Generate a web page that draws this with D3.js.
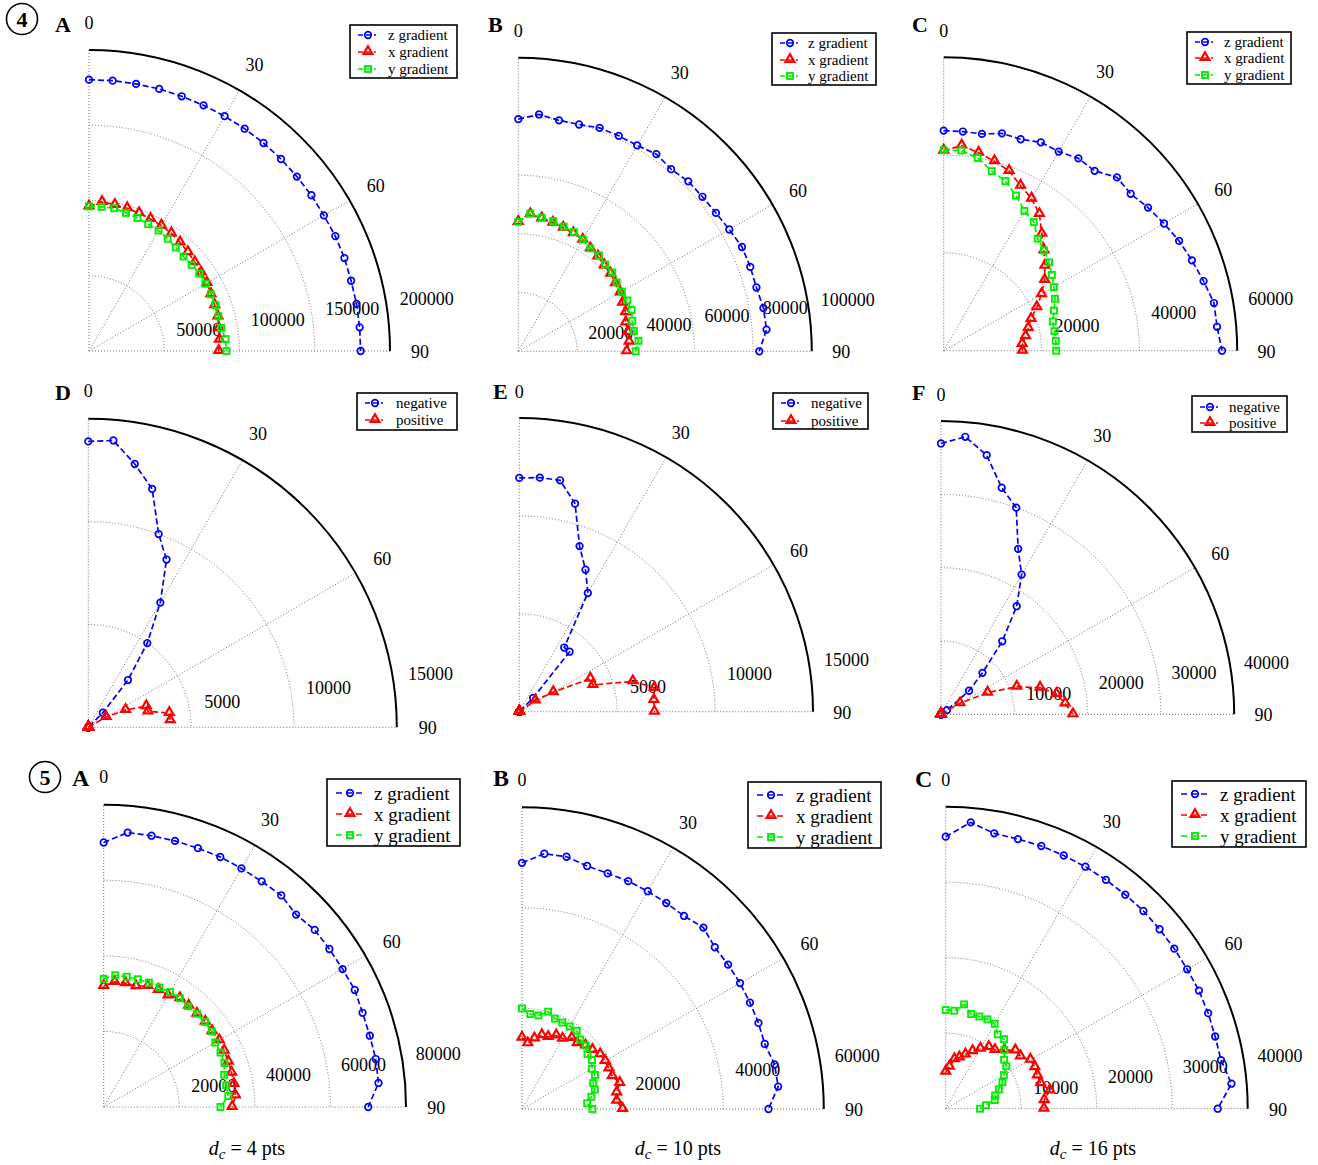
<!DOCTYPE html>
<html>
<head>
<meta charset="utf-8">
<script src="https://cdn.jsdelivr.net/npm/d3@7/dist/d3.min.js"></script>
<style>
  html, body { margin: 0; padding: 0; background: #fff; }
  svg { display: block; }
  text { font-family: "Liberation Serif", "Times New Roman", serif; fill: #000; }
</style>
</head>
<body>
<svg id="chart" width="1318" height="1165"></svg>
<script>
// ---------------- DATA ----------------
const ANGLES = [0, 5, 10, 15, 20, 25, 30, 35, 40, 45, 50, 55, 60, 65, 70, 75, 80, 85, 90];
const ANGLE_TICKS = [0, 30, 60, 90];
const GRAD_NAMES = ["z gradient", "x gradient", "y gradient"];
const SIGN_NAMES = ["negative", "positive"];

// Figure 4 A (d_c = 4 pts)
const ticks4A = [50000, 100000, 150000, 200000];
const f4A_z = [180300,180300,180200,180300,180100,180100,180200,180300,180400,180400,180300,180400,180200,180600,180600,180300,180500,180500,180500];
const f4A_x = [96100,99400,98600,98200,97400,96800,96200,95400,94200,92900,91800,90900,90500,89400,88900,88700,87600,87000,86200];
const f4A_y = [96100,96100,96300,95000,94100,93000,92400,91100,89800,88800,89000,89600,89400,89200,89300,89000,89100,91100,91300];

// Figure 4 B
const ticks4B = [20000, 40000, 60000, 80000, 100000];
const f4B_z = [79100,81000,79900,80000,81000,81000,81000,82000,81000,81900,81900,82200,83000,84100,84100,84000,84800,84900,82100];
const f4B_x = [44100,46900,46000,45400,44800,44400,43900,42800,42200,41400,41100,40400,40100,39200,38900,37900,37900,37900,36900];
const f4B_y = [44100,47100,46200,45900,45200,44800,44000,42800,42700,41800,41800,40900,40700,41000,41100,40200,40000,41100,40000];

// Figure 4 C
const ticks4C = [20000, 40000, 60000];
const f4C_z = [45000,44970,45000,46000,46000,47000,47000,48000,48000,50100,49900,51000,52000,53100,54000,55000,56100,56100,56900];
const f4C_x = [40900,42100,41100,40100,39100,37200,35900,34100,31200,29000,27000,25200,23100,21000,19000,17900,17000,16100,16100];
const f4C_y = [41000,41100,40000,38000,36900,35000,33000,32100,29900,29000,28100,27000,26000,25100,24000,23100,23000,23000,23000];

// Figure 4 D
const ticks4D = [5000, 10000, 15000];
const f4D_neg = [13900,14000,13000,12000,10000,9000,7000,5000,3000,1000,0,0,0,0,0,0,0,0,0];
const f4D_pos = [0,0,0,0,0,0,0,0,0,0,0,0,1000,2000,3000,3000,4000,4000,null];

// Figure 4 E
const ticks4E = [5000, 10000, 15000];
const f4E_neg = [11940,12000,12000,11000,9000,8000,7000,4000,4000,1000,0,0,0,0,0,0,0,0,0];
const f4E_pos = [0,0,0,0,0,0,0,0,0,0,0,1000,2000,4000,4000,6000,7000,6900,6900];

// Figure 4 F
const ticks4F = [10000, 20000, 30000, 40000];
const f4F_neg = [36950,38000,35900,32000,30000,24900,22000,18000,13000,8000,5000,1000,0,0,0,0,0,0,0];
const f4F_pos = [0,0,0,0,0,0,0,0,0,0,0,0,3000,7000,11000,14000,16000,17000,18000];

// Figure 5 A
const ticks5A = [20000, 40000, 60000, 80000];
const f5A_z = [70000,72900,72900,72900,72900,73000,72900,72900,73100,72000,72900,72900,73000,73300,72900,72900,73100,73000,70000];
const f5A_x = [32050,33250,33270,33100,34100,34200,34100,35150,35000,34900,35100,35000,35300,35200,35100,35050,35000,35000,34000];
const f5A_y = [33900,35000,35000,35000,35000,34900,35100,35100,34800,34900,35000,34900,34100,34100,34000,33000,32900,33100,30900];

// Figure 5 B
const ticks5B = [20000, 40000, 60000];
const f5B_z = [48940,50940,50920,50020,49840,49980,50000,50000,50100,51000,50030,50030,50050,50010,50030,49960,50990,51120,49010];
const f5B_x = [14170,13110,14250,15210,15230,16120,16140,17250,17080,17840,18290,18960,19080,19050,19090,20100,19100,18900,20000];
const f5B_y = [20000,18950,18900,20030,19110,18960,18940,18980,18010,17890,16980,16980,16020,16000,15060,14990,14000,13000,14000];

// Figure 5 C
const ticks5C = [10000, 20000, 30000, 40000];
const f5C_z = [36030,38070,37030,36970,37030,37000,37010,37000,37000,37030,36980,36960,36930,37010,36990,36950,37030,37990,36030];
const f5C_x = [4900,5580,6660,7020,7640,8420,9190,9970,10160,10990,12030,12090,12960,13030,12920,13020,14010,13100,13020];
const f5C_y = [13070,13030,14030,12980,13000,13060,12980,12020,12030,10990,10100,9800,8900,8300,7500,6780,6590,5360,4550];

const XLABELS = ["4", "10", "16"];

// ---------------- STYLE / LAYOUT ----------------
const BLUE = "#0000ff", RED = "#ff0000", GREEN = "#00ee00";
const gradStyles = [
  {color: BLUE, marker: "circle"},
  {color: RED, marker: "triangle"},
  {color: GREEN, marker: "square"}
];
const signStyles = [
  {color: BLUE, marker: "circle"},
  {color: RED, marker: "triangle"}
];

const smallLeg = {font: 15, s0: 8, s1: 26, m: 18};
const bigLeg = {font: 19, s0: 9, s1: 38, m: 23};

const panels = [
  {cx: 89, cy: 351, R: 301, ticks: ticks4A, series: [f4A_z, f4A_x, f4A_y], names: GRAD_NAMES, styles: gradStyles,
   letter: {t: "A", x: 55, y: 32, s: 22}, leg: {x: 350, y: 25, w: 107, h: 53, rows: [10, 27, 44], tx: 38, ...smallLeg}},
  {cx: 518.3, cy: 351.3, R: 293.5, ticks: ticks4B, series: [f4B_z, f4B_x, f4B_y], names: GRAD_NAMES, styles: gradStyles,
   letter: {t: "B", x: 488, y: 32, s: 22}, leg: {x: 772, y: 33, w: 104, h: 52, rows: [10, 27, 43], tx: 36, ...smallLeg}},
  {cx: 943.7, cy: 350.7, R: 293.5, ticks: ticks4C, series: [f4C_z, f4C_x, f4C_y], names: GRAD_NAMES, styles: gradStyles,
   letter: {t: "C", x: 912, y: 32, s: 22}, leg: {x: 1187, y: 32, w: 104, h: 52, rows: [10, 26, 43], tx: 37, ...smallLeg}},
  {cx: 88.3, cy: 727.3, R: 308.5, ticks: ticks4D, series: [f4D_neg, f4D_pos], names: SIGN_NAMES, styles: signStyles,
   letter: {t: "D", x: 55, y: 400, s: 22}, leg: {x: 357, y: 393, w: 100, h: 37, rows: [10, 27], tx: 39, ...smallLeg}},
  {cx: 519.3, cy: 711.7, R: 293.7, ticks: ticks4E, series: [f4E_neg, f4E_pos], names: SIGN_NAMES, styles: signStyles,
   letter: {t: "E", x: 493, y: 399, s: 22}, leg: {x: 773, y: 393, w: 95, h: 36, rows: [10, 28], tx: 38, ...smallLeg}},
  {cx: 941, cy: 714.3, R: 293.2, ticks: ticks4F, series: [f4F_neg, f4F_pos], names: SIGN_NAMES, styles: signStyles,
   letter: {t: "F", x: 912, y: 400, s: 22}, leg: {x: 1192, y: 396, w: 95, h: 36, rows: [11, 27], tx: 37, ...smallLeg}},
  {cx: 103.7, cy: 1107, R: 302.3, ticks: ticks5A, series: [f5A_z, f5A_x, f5A_y], names: GRAD_NAMES, styles: gradStyles,
   letter: {t: "A", x: 72, y: 786, s: 24}, leg: {x: 327, y: 779, w: 133, h: 67, rows: [14, 35, 56], tx: 47, ...bigLeg},
   xlabel: {t: XLABELS[0], x: 247, y: 1155}},
  {cx: 522, cy: 1109, R: 301.8, ticks: ticks5B, series: [f5B_z, f5B_x, f5B_y], names: GRAD_NAMES, styles: gradStyles,
   letter: {t: "B", x: 493, y: 786, s: 24}, leg: {x: 748, y: 782, w: 133, h: 66, rows: [13, 34, 55], tx: 48, ...bigLeg},
   xlabel: {t: XLABELS[1], x: 678, y: 1155}},
  {cx: 945.7, cy: 1108.7, R: 302, ticks: ticks5C, series: [f5C_z, f5C_x, f5C_y], names: GRAD_NAMES, styles: gradStyles,
   letter: {t: "C", x: 915, y: 787, s: 24}, leg: {x: 1172, y: 781, w: 134, h: 66, rows: [13, 34, 55], tx: 48, ...bigLeg},
   xlabel: {t: XLABELS[2], x: 1093, y: 1155}}
];

const svg = d3.select("#chart");
const rad = a => a * Math.PI / 180;

function drawMarker(g, type, x, y, color) {
  if (type === "circle") {
    g.append("circle").attr("cx", x).attr("cy", y).attr("r", 3.3)
      .attr("fill", "none").attr("stroke", color).attr("stroke-width", 1.7);
  } else if (type === "triangle") {
    g.append("path").attr("d", d3.symbol().type(d3.symbolTriangle).size(34)())
      .attr("transform", `translate(${x},${y - 0.6})`)
      .attr("fill", "none").attr("stroke", color).attr("stroke-width", 2.2);
  } else {
    g.append("rect").attr("x", x - 3).attr("y", y - 3).attr("width", 6).attr("height", 6)
      .attr("fill", "none").attr("stroke", color).attr("stroke-width", 1.9);
  }
}

panels.forEach(p => {
  const rmax = p.ticks[p.ticks.length - 1];
  const rinc = p.ticks[1] - p.ticks[0];
  const r = d3.scaleLinear().domain([0, rmax]).range([0, p.R]);
  const g = svg.append("g").attr("transform", `translate(${p.cx},${p.cy})`);

  // dotted grid circles
  const grid = g.append("g").attr("fill", "none").attr("stroke", "#707070")
    .attr("stroke-width", 1).attr("stroke-dasharray", "1,2");
  p.ticks.slice(0, -1).forEach(t => {
    const path = d3.path();
    path.moveTo(0, -r(t));
    path.arc(0, 0, r(t), -Math.PI / 2, 0);
    grid.append("path").attr("d", path.toString());
  });
  // spokes
  ANGLE_TICKS.forEach(a => {
    const [x, y] = d3.pointRadial(rad(a), p.R);
    grid.append("line").attr("x1", 0).attr("y1", 0).attr("x2", x).attr("y2", y);
  });
  // outer solid arc
  const outer = d3.path();
  outer.moveTo(0, -p.R);
  outer.arc(0, 0, p.R, -Math.PI / 2, 0);
  g.append("path").attr("d", outer.toString()).attr("fill", "none")
    .attr("stroke", "#000").attr("stroke-width", 2);

  // angle labels
  ANGLE_TICKS.forEach(a => {
    const [x, y] = d3.pointRadial(rad(a), p.R * 1.1);
    g.append("text").attr("x", x).attr("y", y + (a === 0 ? 3 : 1)).attr("text-anchor", "middle")
      .attr("dominant-baseline", "central").attr("font-size", 18).text(a);
  });
  // radial labels at 82 degrees
  p.ticks.forEach(t => {
    const [x, y] = d3.pointRadial(rad(82), r(t + rinc / 20));
    g.append("text").attr("x", x + 9).attr("y", y - 4).attr("font-size", 18).text(t);
  });

  // series
  p.series.forEach((vals, i) => {
    const st = p.styles[i];
    const pts = ANGLES.map((a, k) => ({a, v: vals[k]}));
    const line = d3.lineRadial().defined(d => d.v != null)
      .angle(d => rad(d.a)).radius(d => r(d.v));
    g.append("path").attr("d", line(pts)).attr("fill", "none")
      .attr("stroke", st.color).attr("stroke-width", 1.7).attr("stroke-dasharray", "6,3");
    const mg = g.append("g");
    pts.filter(d => d.v != null).forEach(d => {
      const [x, y] = d3.pointRadial(rad(d.a), r(d.v));
      drawMarker(mg, st.marker, x, y, st.color);
    });
  });

  // legend
  const L = p.leg;
  const lg = svg.append("g").attr("transform", `translate(${L.x},${L.y})`);
  lg.append("rect").attr("width", L.w).attr("height", L.h).attr("fill", "#fff")
    .attr("stroke", "#000").attr("stroke-width", 1.6);
  p.names.forEach((name, i) => {
    const st = p.styles[i];
    const yy = L.rows[i];
    lg.append("line").attr("x1", L.s0).attr("x2", L.s1).attr("y1", yy).attr("y2", yy)
      .attr("stroke", st.color).attr("stroke-width", 1.7)
      .attr("stroke-dasharray", L.font > 16 ? "6,4" : "5,3");
    drawMarker(lg, st.marker, L.m, yy, st.color);
    lg.append("text").attr("x", L.tx).attr("y", yy).attr("dominant-baseline", "central")
      .attr("font-size", L.font).text(name);
  });

  // panel letter
  svg.append("text").attr("x", p.letter.x).attr("y", p.letter.y)
    .attr("font-size", p.letter.s).attr("font-weight", "bold").text(p.letter.t);

  // x label
  if (p.xlabel) {
    const t = svg.append("text").attr("x", p.xlabel.x).attr("y", p.xlabel.y)
      .attr("text-anchor", "middle").attr("font-size", 20);
    t.append("tspan").attr("font-style", "italic").text("d");
    t.append("tspan").attr("font-style", "italic").attr("font-size", 15).attr("dy", 4).text("c");
    t.append("tspan").attr("dy", -4).text(" = " + p.xlabel.t + " pts");
  }
});

// circled figure numbers
[{n: "4", x: 22, y: 19}, {n: "5", x: 45, y: 777}].forEach(c => {
  svg.append("circle").attr("cx", c.x).attr("cy", c.y).attr("r", 15.5)
    .attr("fill", "none").attr("stroke", "#000").attr("stroke-width", 1.6);
  svg.append("text").attr("x", c.x).attr("y", c.y).attr("text-anchor", "middle")
    .attr("dominant-baseline", "central").attr("font-size", 22).attr("font-weight", "bold").text(c.n);
});
</script>
</body>
</html>
